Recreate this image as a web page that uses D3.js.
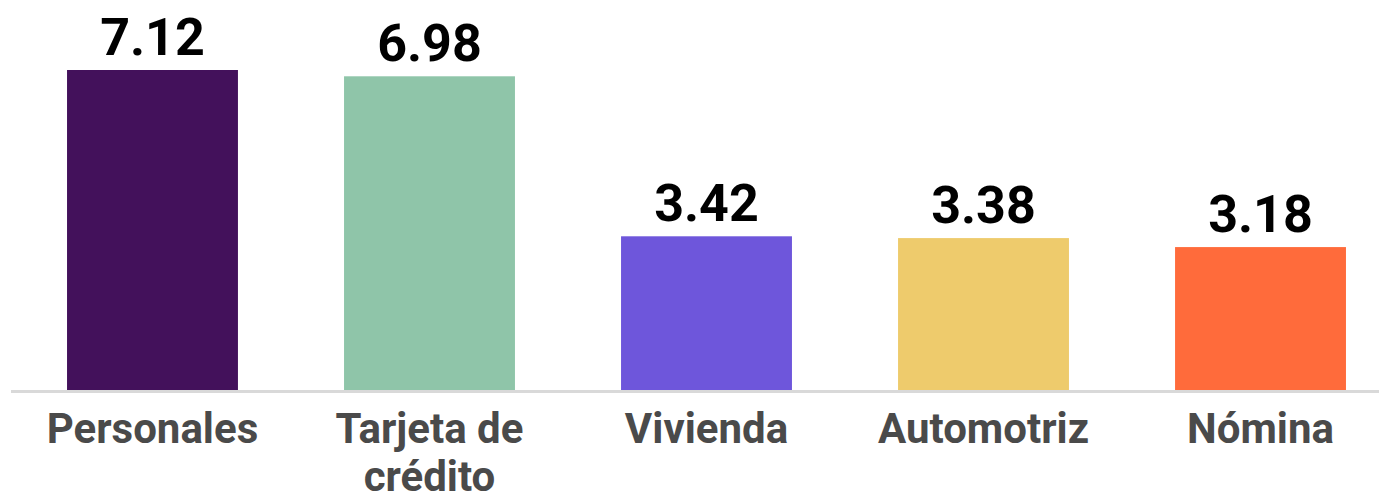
<!DOCTYPE html>
<html>
<head>
<meta charset="utf-8">
<script src="https://cdn.jsdelivr.net/npm/d3@7"></script>
<style>
  html, body { margin: 0; padding: 0; background: #fff; }
</style>
</head>
<body>
<div id="chart"></div>
<script>
const width = 1379, height = 496

// data
const categories = ["Personales", "Tarjeta de crédito", "Vivienda", "Automotriz", "Nómina"]
const labelLines = [["Personales"], ["Tarjeta de", "crédito"], ["Vivienda"], ["Automotriz"], ["Nómina"]]
const values = [7.12, 6.98, 3.42, 3.38, 3.18]
const colors = ["#43115b", "#8fc5a9", "#6e56db", "#eecb6c", "#ff6b3b"]

const baseY = 390
const fontFamily = "Roboto, 'Noto Sans', sans-serif"

const svg = d3.select("#chart")
    .append("svg")
    .attr("xmlns", "http://www.w3.org/2000/svg")
    .attr("width", width)
    .attr("height", height)

// scales
const x = d3.scaleBand()
    .domain(categories)
    .range([0, 1413])
    .paddingInner(0.383)
    .paddingOuter(0.242)
const y = d3.scaleLinear()
    .domain([0, 7.12])
    .range([baseY, 70])

const data = categories.map((c, i) => ({ c, v: values[i], color: colors[i], lines: labelLines[i] }))

// bars
svg.selectAll(".bar").data(data).enter().append("rect")
    .attr("class", "bar")
    .attr("x", d => x(d.c))
    .attr("y", d => y(d.v))
    .attr("width", x.bandwidth())
    .attr("height", d => baseY - y(d.v))
    .attr("fill", d => d.color)

// baseline
svg.append("line")
    .attr("x1", 11).attr("x2", width)
    .attr("y1", baseY + 1.5).attr("y2", baseY + 1.5)
    .attr("stroke", "#d9d9d9")
    .attr("stroke-width", 3)

// value labels
svg.selectAll(".val").data(data).enter().append("text")
    .attr("class", "val")
    .attr("x", d => x(d.c) + x.bandwidth() / 2)
    .attr("y", d => y(d.v) - 15)
    .attr("text-anchor", "middle")
    .attr("font-family", fontFamily)
    .attr("font-weight", "bold")
    .attr("font-size", 52)
    .attr("fill", "#000")
    .text(d => d.v.toFixed(2))

// category labels
const lab = svg.selectAll(".lab").data(data).enter().append("text")
    .attr("class", "lab")
    .attr("text-anchor", "middle")
    .attr("font-family", fontFamily)
    .attr("font-weight", "bold")
    .attr("font-size", 42)
    .attr("fill", "#4a4a4a")
lab.selectAll("tspan").data(d => d.lines.map(t => ({ t, cx: x(d.c) + x.bandwidth() / 2 })))
    .enter().append("tspan")
    .attr("x", d => d.cx)
    .attr("y", (d, i) => 443 + i * 48)
    .text(d => d.t)
</script>
</body>
</html>
